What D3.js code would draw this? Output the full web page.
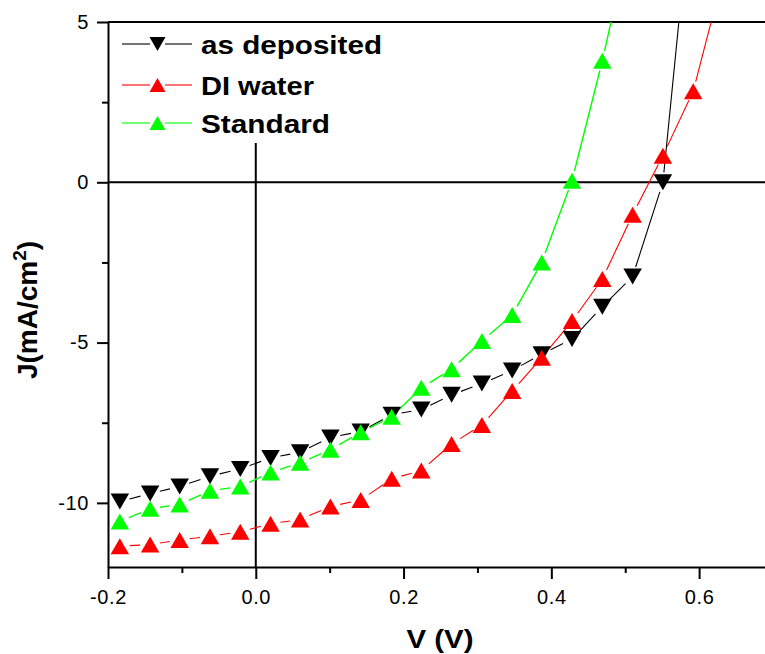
<!DOCTYPE html>
<html>
<head>
<meta charset="utf-8">
<script src="https://cdn.jsdelivr.net/npm/d3@7/dist/d3.min.js"></script>
<style>
  html, body { margin: 0; padding: 0; background: #fff; }
  svg { display: block; }
  text { font-family: "Liberation Sans", Arial, sans-serif; }
</style>
</head>
<body>
<svg id="chart" width="765" height="654"></svg>
<script>
// ---------- data ----------
const voltage = [-0.184, -0.143, -0.103, -0.062, -0.021, 0.020, 0.060, 0.101, 0.142, 0.184,
                 0.224, 0.265, 0.306, 0.347, 0.387, 0.428, 0.469, 0.510, 0.551, 0.592, 0.632];
const asDeposited = [-9.96, -9.71, -9.49, -9.17, -8.94, -8.60, -8.42, -7.96, -7.77, -7.25,
                     -7.09, -6.63, -6.28, -5.87, -5.36, -4.89, -3.88, -2.94, 0.00, 9.5];
const diWater = [-11.35, -11.30, -11.16, -11.04, -10.90, -10.65, -10.52, -10.11, -9.91, -9.25,
                 -8.99, -8.16, -7.57, -6.51, -5.47, -4.33, -3.02, -1.01, 0.83, 2.84, 6.4];
const standard = [-10.58, -10.18, -10.05, -9.62, -9.49, -9.05, -8.75, -8.34, -7.80, -7.31,
                  -6.41, -5.83, -4.95, -4.14, -2.50, 0.05, 3.79, 8.0];
const seriesNames = ["as deposited", "DI water", "Standard"];
const xTicks = [-0.2, 0.0, 0.2, 0.4, 0.6];
const xMinorTicks = [-0.1, 0.1, 0.3, 0.5];
const yTicks = [-10, -5, 0, 5];
const yMinorTicks = [-7.5, -2.5, 2.5];

// ---------- setup ----------
const svg = d3.select("#chart");
const mLeft = 108, mRight = 773, mTop = 22, mBottom = 567;
const x = d3.scaleLinear().domain([-0.2, 0.7]).range([mLeft, mRight]);
const y = d3.scaleLinear().domain([-12, 5]).range([mBottom, mTop]);

const series = [
  { name: seriesNames[0], values: asDeposited, color: "#000000", down: true, lw: 1.1 },
  { name: seriesNames[1], values: diWater, color: "#ff0000", down: false, lw: 1.1 },
  { name: seriesNames[2], values: standard, color: "#00ff00", down: false, lw: 1.4 }
];

svg.append("defs").append("clipPath").attr("id", "plotclip")
  .append("rect").attr("x", mLeft).attr("y", mTop).attr("width", mRight - mLeft).attr("height", mBottom - mTop);

// ---------- frame / reference lines ----------
const axisColor = "#000";
svg.append("line").attr("x1", mLeft).attr("x2", 765).attr("y1", y(5)).attr("y2", y(5))
  .attr("stroke", axisColor).attr("stroke-width", 2);
svg.append("line").attr("x1", mLeft).attr("x2", 765).attr("y1", y(0)).attr("y2", y(0))
  .attr("stroke", axisColor).attr("stroke-width", 2);
svg.append("line").attr("x1", x(0)).attr("x2", x(0)).attr("y1", 143).attr("y2", mBottom)
  .attr("stroke", axisColor).attr("stroke-width", 2);

// ---------- axes ----------
const fmtX = d => (d < 0 ? "-" : "") + Math.abs(d).toFixed(1);
const xAxis = d3.axisBottom(x).tickValues(xTicks).tickFormat(fmtX)
  .tickSize(12).tickSizeOuter(0).tickPadding(11);
const gx = svg.append("g").attr("transform", `translate(0,${mBottom})`).call(xAxis);
const xMinor = d3.axisBottom(x).tickValues(xMinorTicks).tickFormat("").tickSize(6).tickSizeOuter(0);
const gxm = svg.append("g").attr("transform", `translate(0,${mBottom})`).call(xMinor);
gxm.select(".domain").remove();

const yAxis = d3.axisLeft(y).tickValues(yTicks).tickFormat(d => (d < 0 ? "-" : "") + Math.abs(d))
  .tickSize(11).tickSizeOuter(0).tickPadding(8);
const gy = svg.append("g").attr("transform", `translate(${mLeft},0)`).call(yAxis);
const yMinor = d3.axisLeft(y).tickValues(yMinorTicks).tickFormat("").tickSize(6).tickSizeOuter(0);
const gym = svg.append("g").attr("transform", `translate(${mLeft},0)`).call(yMinor);
gym.select(".domain").remove();

[gx, gxm, gy, gym].forEach(g => {
  g.selectAll("path.domain").attr("stroke", axisColor).attr("stroke-width", 2);
  g.selectAll(".tick line").attr("stroke", axisColor).attr("stroke-width", 2);
  g.selectAll(".tick text").attr("fill", "#000").style("font-size", "20px")
    .style("letter-spacing", "0.6px")
    .style("font-family", "'Liberation Sans', Arial, sans-serif");
});

// ---------- axis titles ----------
svg.append("text").attr("x", 440).attr("y", 648).attr("text-anchor", "middle")
  .style("font-size", "25px").style("font-weight", "bold")
  .attr("textLength", 67).attr("lengthAdjust", "spacingAndGlyphs")
  .text("V (V)");

const yl = svg.append("text")
  .attr("transform", "translate(37,310) rotate(-90)")
  .attr("text-anchor", "middle")
  .style("font-size", "28px").style("font-weight", "bold");
yl.append("tspan").text("J(mA/cm");
yl.append("tspan").attr("dy", -11).style("font-size", "19px").text("2");
yl.append("tspan").attr("dy", 11).text(")");

// ---------- series ----------
function triPath(cx, cy, w, h, down) {
  const hw = w / 2, hh = h / 2;
  if (down) return `M${cx - hw},${cy - hh}L${cx + hw},${cy - hh}L${cx},${cy + hh}Z`;
  return `M${cx - hw},${cy + hh}L${cx + hw},${cy + hh}L${cx},${cy - hh}Z`;
}

const plot = svg.append("g").attr("clip-path", "url(#plotclip)");
const gap = 10;

series.forEach(s => {
  const pts = s.values.map((v, i) => [x(voltage[i]), y(v)]);
  const segs = [];
  for (let i = 0; i < pts.length - 1; i++) {
    const [x1, y1] = pts[i], [x2, y2] = pts[i + 1];
    const dx = x2 - x1, dy = y2 - y1, L = Math.hypot(dx, dy);
    if (L <= 2 * gap) continue;
    const ux = dx / L, uy = dy / L;
    segs.push([x1 + ux * gap, y1 + uy * gap, x2 - ux * gap, y2 - uy * gap]);
  }
  plot.append("g").selectAll("line").data(segs).join("line")
    .attr("x1", d => d[0]).attr("y1", d => d[1]).attr("x2", d => d[2]).attr("y2", d => d[3])
    .attr("stroke", s.color).attr("stroke-width", s.lw);
});

series.forEach(s => {
  plot.append("g").selectAll("path").data(s.values).join("path")
    .attr("d", (v, i) => triPath(x(voltage[i]), y(v), 18.5, 16, s.down))
    .attr("fill", s.color);
});

// ---------- legend ----------
const legend = svg.append("g");
const legendRows = [44, 85, 123];
const legendLens = [181, 113, 129];
series.forEach((s, i) => {
  const ly = legendRows[i];
  legend.append("line").attr("x1", 122).attr("x2", 150).attr("y1", ly).attr("y2", ly)
    .attr("stroke", s.color).attr("stroke-width", 1.1);
  legend.append("line").attr("x1", 165).attr("x2", 192).attr("y1", ly).attr("y2", ly)
    .attr("stroke", s.color).attr("stroke-width", 1.1);
  legend.append("path").attr("d", triPath(157.5, ly, 16, 14, s.down)).attr("fill", s.color);
  legend.append("text").attr("x", 201).attr("y", ly + 10)
    .style("font-size", "25px").style("font-weight", "bold")
    .attr("textLength", legendLens[i]).attr("lengthAdjust", "spacingAndGlyphs")
    .text(s.name);
});
</script>
</body>
</html>
